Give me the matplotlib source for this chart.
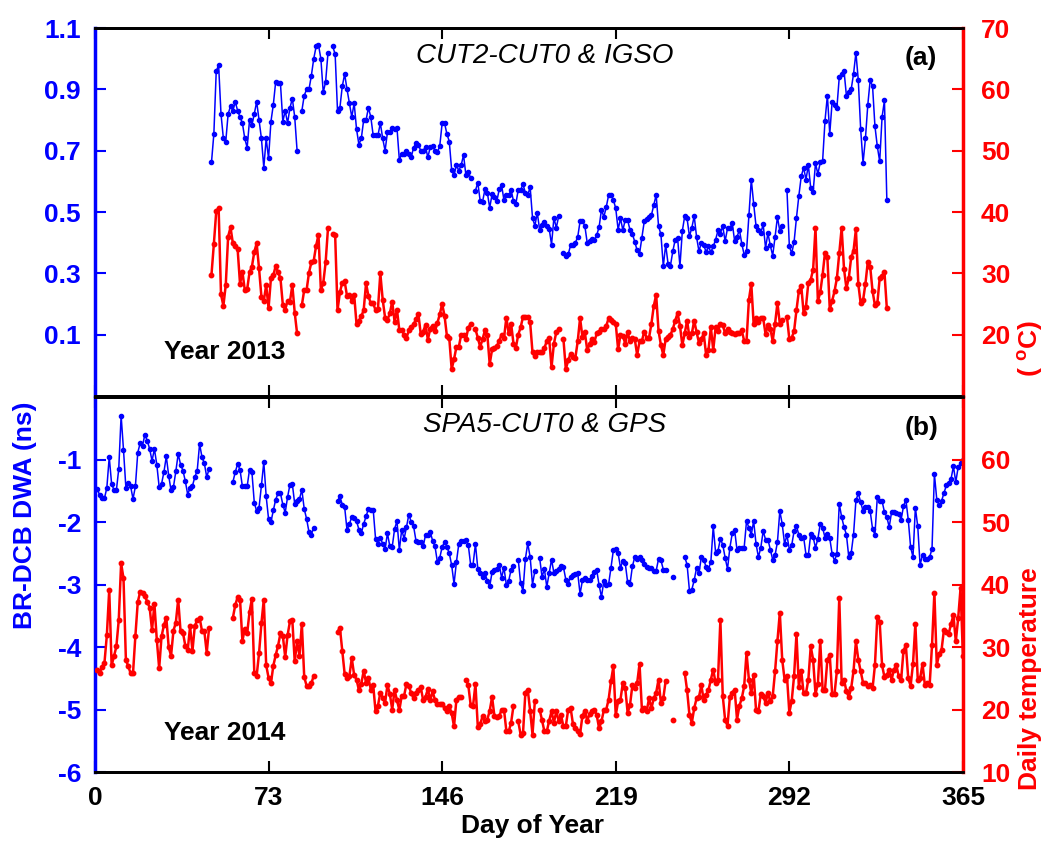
import numpy as np
import matplotlib
matplotlib.use('Agg')
import matplotlib.pyplot as plt

na = np.nan

# ---- 2013, CUT2-CUT0 & IGSO (days 49-333) ----
days_2013 = np.arange(49, 334)
dwa_2013 = [
    0.662, 0.755, 0.96, 0.979, 0.82, 0.74, 0.73, 0.82, 0.845, 0.83,        # 49
    0.86, 0.83, 0.81, 0.79, 0.74, 0.71, 0.80, 0.785, 0.82, 0.86,           # 59
    0.80, 0.74, 0.645, 0.74, 0.675, 0.795, 0.85, 0.925, 0.92, 0.92,        # 69
    0.795, 0.83, 0.79, 0.84, 0.87, 0.81, 0.70, na, 0.83, 0.88,             # 79
    0.90, 0.90, 0.945, 1.0, 1.04, 1.045, 1.0, 0.89, 0.925, 1.02,           # 89
    na, 1.04, 1.015, 0.83, 0.84, 0.91, 0.95, 0.90, 0.855, 0.81,            # 99
    0.855, 0.77, 0.72, 0.74, 0.80, 0.80, 0.84, 0.81, 0.75, 0.75,           # 109
    0.75, 0.79, 0.74, 0.70, 0.76, 0.76, 0.775, 0.77, 0.775, 0.67,          # 119
    0.69, 0.69, 0.70, 0.69, 0.68, 0.71, 0.725, 0.72, 0.70, 0.70,           # 129
    0.713, 0.678, 0.713, 0.716, 0.70, 0.695, 0.716, 0.79, 0.79, 0.755,     # 139
    0.73, 0.637, 0.62, 0.653, 0.635, 0.653, 0.686, 0.62, 0.632, 0.61,      # 149
    na, 0.57, 0.596, 0.536, 0.534, 0.574, 0.563, 0.514, 0.558, 0.55,       # 159
    0.536, 0.574, 0.588, 0.538, 0.555, 0.555, 0.572, 0.536, 0.527, 0.573,  # 169
    0.573, 0.59, 0.563, 0.555, 0.582, 0.481, 0.455, 0.498, 0.442, 0.457,   # 179
    0.468, 0.454, 0.446, 0.394, 0.481, 0.449, 0.486, na, 0.367, 0.356,     # 189
    0.362, 0.391, 0.394, 0.40, 0.418, 0.47, 0.47, 0.455, 0.40, 0.407,      # 199
    0.413, 0.409, 0.425, 0.451, 0.508, 0.484, 0.516, 0.555, 0.555, 0.54,   # 209
    0.512, 0.443, 0.479, 0.441, 0.475, 0.473, 0.442, 0.429, 0.403, 0.375,  # 219
    0.364, 0.416, 0.47, 0.478, 0.484, 0.49, 0.523, 0.556, 0.454, 0.427,    # 229
    0.323, 0.394, 0.331, 0.325, 0.372, 0.41, 0.416, 0.323, 0.438, 0.487,   # 239
    0.479, 0.421, 0.449, 0.487, 0.418, 0.372, 0.40, 0.394, 0.369, 0.388,   # 249
    0.369, 0.388, 0.41, 0.44, 0.43, 0.454, 0.405, 0.447, 0.447, 0.464,     # 259
    0.405, 0.419, 0.442, 0.397, 0.361, 0.372, 0.489, 0.606, 0.527, 0.454,  # 269
    0.443, 0.432, 0.46, 0.383, 0.431, 0.391, 0.358, 0.419, 0.484, 0.438,   # 279
    0.453, na, 0.572, 0.389, 0.365, 0.403, 0.481, 0.553, 0.616, 0.645,     # 289
    0.606, 0.653, 0.578, 0.565, 0.659, 0.624, 0.662, 0.667, 0.798, 0.88,   # 299
    0.755, 0.86, 0.85, 0.84, 0.94, 0.95, 0.96, 0.88, 0.89, 0.90,           # 309
    0.95, 1.02, 0.93, 0.77, 0.66, 0.74, 0.85, 0.93, 0.91, 0.78,            # 319
    0.714, 0.665, 0.81, 0.864, 0.54,                                       # 329
]
temp_2013 = [
    29.8, 34.8, 40.1, 40.7, 26.6, 24.7, 28.1, 36.0, 37.5, 34.9,   # 49
    34.4, 33.9, 28.3, 30.3, 27.3, 27.4, 30.2, 31.1, 33.5, 34.9,   # 59
    30.8, 26.2, 25.5, 28.1, 24.3, 29.2, 29.7, 31.2, 30.2, 29.2,   # 69
    24.9, 24.1, 25.5, 25.4, 28.1, 23.6, 20.2, na, 24.8, 27.3,     # 79
    27.3, 30.1, 31.8, 32.1, 34.5, 36.3, 27.3, 28.4, 31.8, 37.4,   # 89
    na, 36.4, 36.3, 24.0, 26.9, 28.5, 28.7, 26.3, 26.5, 25.5,     # 99
    26.5, 21.7, 22.3, 23.0, 24.0, 28.4, 26.3, 25.1, 25.1, 24.0,   # 109
    24.2, 30.0, 25.7, 22.8, 22.4, 23.5, 25.4, 22.1, 24.1, 20.7,   # 119
    20.7, 20.0, 19.5, 20.7, 21.2, 21.7, 22.5, 23.4, 20.1, 20.5,   # 129
    21.6, 19.2, 21.0, 21.5, 20.6, 21.9, 23.35, 25.0, 23.1, 19.8,  # 139
    19.4, 14.4, 16.0, 18.0, 18.0, 20.0, 20.0, 19.3, 21.1, 21.8,   # 149
    na, 20.9, 19.5, 18.0, 19.3, 20.7, 20.0, 15.2, 17.6, 17.8,     # 159
    18.1, 19.0, 20.0, 19.4, 22.8, 20.2, 21.8, 18.55, 17.9, 20.0,  # 169
    21.2, 22.9, 22.9, 22.9, 22.0, 17.1, 16.5, 17.25, 17.25, 17.1, # 179
    17.8, 19.0, 19.4, 14.7, 18.55, 20.4, 20.9, na, 19.3, 14.4,    # 189
    15.8, 16.9, 16.3, 16.2, 18.9, 22.7, 19.6, 20.4, 17.5, 18.5,   # 199
    19.3, 18.8, 20.2, 20.4, 20.9, 20.9, 21.4, 22.7, 22.4, 22.1,   # 209
    21.8, 17.6, 20.0, 19.8, 18.55, 20.4, 18.9, 19.4, 19.3, 16.7,  # 219
    18.9, 19.0, 20.5, 19.5, 19.5, 21.8, 24.7, 26.5, 20.6, 18.3,   # 229
    16.7, 19.3, 19.6, 20.0, 20.9, 22.3, 23.5, 21.5, 18.3, 20.2,   # 239
    22.3, 19.6, 20.2, 22.3, 20.4, 18.7, 19.3, 20.2, 16.7, 17.5,   # 249
    21.2, 17.5, 21.2, 20.6, 21.7, 21.6, 20.2, 21.0, 20.5, 20.2,   # 259
    20.1, 20.2, 20.2, 20.7, 19.0, 19.0, 25.7, 28.3, 21.7, 22.7,   # 269
    22.1, 22.7, 22.7, 20.1, 21.6, 21.0, 19.0, 21.8, 25.2, 21.8,   # 279
    22.4, na, 22.9, 19.3, 19.5, 20.6, 24.0, 27.1, 28.0, 23.6,     # 289
    24.6, 28.5, 29.0, 30.6, 37.4, 25.5, 26.9, 29.8, 33.4, 32.6,   # 299
    24.2, 25.5, 27.1, 29.2, 33.3, 37.4, 30.7, 27.6, 29.2, 32.6,   # 309
    33.7, 37.2, 28.3, 25.1, 25.6, 28.3, 31.9, 31.1, 27.1, 24.8,   # 319
    25.1, 29.2, 29.5, 30.2, 24.3,                                 # 329
]

# ---- 2014, SPA5-CUT0 & GPS (days 1-365) ----
days_2014 = np.arange(1, 366)
dwa_2014 = [
    -1.47, -1.575, -1.62, -1.62, -1.45, -0.96, -1.39, -1.485, -1.495, -1.15,      # 1
    -0.297, -0.845, -1.45, -1.38, -1.43, -1.63, -1.43, -0.888, -0.739, -0.776,    # 11
    -0.60, -0.70, -0.83, -1.02, -0.83, -1.08, -1.44, -1.39, -1.20, -0.95,         # 21
    -1.256, -1.495, -1.44, -1.19, -0.91, -1.08, -1.176, -1.346, -1.56, -1.45,     # 31
    -1.42, -1.28, -1.176, -0.75, -0.96, -1.06, -1.28, -1.15, na, na,              # 41
    na, na, na, na, na, na, na, -1.36, -1.20, -1.07,                              # 51
    -1.165, -1.43, -1.43, -1.43, -1.16, -1.20, -1.69, -1.825, -1.77, -1.415,      # 61
    -1.04, -1.59, -1.95, -2.0, -1.815, -1.64, -1.54, -1.54, -1.72, -1.85,         # 71
    -1.60, -1.40, -1.39, -1.71, -1.665, -1.63, -1.485, -1.79, -1.95, -2.16,       # 81
    -2.20, -2.09, na, na, na, na, na, na, na, na,                                 # 91
    na, -1.665, -1.59, -1.72, -1.76, -2.13, -2.03, -1.92, -1.93, -1.985,          # 101
    -2.12, -2.18, -2.03, -1.91, -1.79, -1.80, -1.80, -2.27, -2.35, -2.25,         # 111
    -2.35, -2.43, -2.18, -2.39, -2.40, -2.11, -1.985, -2.45, -2.12, -2.27,        # 121
    -2.08, -1.88, -2.0, -2.07, -2.30, -2.32, -2.32, -2.39, -2.21, -2.21,          # 131
    -2.16, -2.30, -2.39, -2.64, -2.57, -2.40, -2.32, -2.40, -2.50, -2.69,         # 141
    -2.99, -2.64, -2.35, -2.30, -2.30, -2.28, -2.37, -2.69, -2.68, -2.35,         # 151
    -2.75, -2.815, -2.88, -2.815, -2.94, -3.03, -2.80, -2.77, -2.75, -2.68,       # 161
    -2.89, -2.73, -3.01, -2.94, -2.76, -2.71, na, -2.60, -2.98, -3.10,            # 171
    -2.59, -2.34, -2.56, -3.0, -2.78, na, -2.57, -2.88, -2.75, -3.04,             # 181
    -2.815, -2.60, -2.815, -2.79, -2.75, -2.71, -2.72, -2.92, -2.99, -2.88,       # 191
    -2.85, -2.83, -2.815, -3.15, -2.93, -2.89, -2.93, -2.92, -2.87, -2.80,        # 201
    -2.77, -3.01, -3.2, -2.94, -3.01, -2.995, -2.73, -2.45, -2.43, -2.50,         # 211
    -2.73, -2.62, -2.66, -2.96, -2.995, -2.71, -2.56, -2.59, -2.56, -2.61,        # 221
    -2.67, -2.72, -2.73, -2.73, -2.78, -2.78, -2.59, -2.61, -2.76, -2.76,         # 231
    na, na, -2.88, na, na, na, na, -2.56, -2.68, -3.10,                           # 241
    -3.08, -2.93, -2.73, -2.82, -2.56, -2.60, -2.72, -2.75, -2.64, -2.07,         # 251
    -2.49, -2.46, -2.27, -2.36, -2.57, -2.75, -2.41, -2.18, -2.13, -2.45,         # 261
    -2.41, -2.41, -2.41, -1.985, -2.09, -2.20, -1.985, -2.35, -2.56, -2.41,       # 271
    -2.145, -2.28, -2.28, -2.44, -2.60, -2.53, -2.32, -1.825, -2.03, -2.35,       # 281
    -2.21, -2.44, -2.37, -2.145, -2.07, -2.20, -2.25, -2.24, -2.52, -2.53,        # 291
    -2.19, -2.24, -2.41, -2.27, -2.03, -2.09, -2.25, -2.19, -2.26, -2.51,         # 301
    -2.62, -2.51, -1.71, -1.92, -2.08, -2.20, -2.56, -2.50, -2.20, -1.655,        # 311
    -1.54, -1.68, -1.825, -1.76, -1.76, -1.825, -2.11, -2.20, -1.60, -1.665,      # 321
    -1.665, -1.84, -1.92, -2.08, -1.84, -1.84, -1.86, -1.87, -1.96, -1.75,        # 331
    -1.64, -1.96, -2.40, -2.56, -1.77, -2.07, -2.69, -2.52, -2.59, -2.59,         # 341
    -2.56, -2.43, -1.23, -1.64, -1.73, -1.665, -1.54, -1.415, -1.38, -1.31,       # 351
    -1.11, -1.36, -1.12, -1.06, -1.00,                                            # 361
]
temp_2014 = [
    26.4, 25.9, 26.8, 27.5, 31.9, 39.2, 27.1, 28.5, 30.1, 34.3,   # 1
    43.4, 41.0, 28.0, 26.9, 25.8, 25.8, 31.8, 37.2, 38.8, 38.6,   # 11
    38.2, 37.2, 36.3, 32.7, 36.9, 31.2, 26.6, 31.7, 33.5, 34.7,   # 21
    30.0, 28.6, 32.6, 33.9, 37.6, 32.5, 32.3, 30.2, 29.5, 33.3,   # 31
    29.4, 33.4, 34.3, 34.7, 32.6, 32.5, 29.1, 33.1, na, na,       # 41
    na, na, na, na, na, na, na, 34.7, 36.7, 38.0,                 # 51
    37.6, 31.0, 32.9, 32.2, 35.6, 37.7, 25.9, 25.4, 29.0, 33.8,   # 61
    37.6, 27.1, 25.1, 24.2, 27.0, 28.7, 30.2, 32.2, 31.8, 28.4,   # 71
    31.9, 34.1, 34.3, 27.7, 30.9, 28.6, 33.7, 25.2, 23.8, 23.7,   # 81
    24.2, 25.4, na, na, na, na, na, na, na, na,                   # 91
    na, 32.4, 33.1, 29.4, 25.7, 25.0, 25.4, 28.2, 25.5, 24.8,     # 101
    23.1, 24.1, 26.2, 24.3, 25.0, 23.2, 23.9, 19.7, 20.6, 22.7,   # 111
    21.9, 21.1, 23.9, 22.5, 20.0, 23.1, 21.5, 19.9, 22.2, 22.2,   # 121
    24.1, 23.8, 22.6, 21.8, 22.6, 23.1, 23.6, 21.5, 22.0, 23.3,   # 131
    21.5, 22.9, 21.5, 20.9, 20.9, 20.9, 20.2, 19.8, 20.5, 19.4,   # 141
    17.3, 21.6, 22.0, 22.0, na, 24.8, 23.9, 20.7, 20.6, 24.1,     # 151
    17.2, 17.7, 18.9, 18.2, 18.4, 19.8, 22.0, 18.9, 18.8, 18.9,   # 161
    20.0, 20.0, 16.6, 16.5, 17.9, 20.6, na, 18.1, 16.0, 16.2,     # 171
    22.7, 23.2, 19.8, 16.0, 21.4, na, 20.0, 18.3, 16.5, 16.5,     # 181
    18.2, 19.7, 17.9, 19.7, 18.2, 19.1, 17.3, 17.3, 20.0, 20.3,   # 191
    17.7, 17.0, 16.5, 16.1, 19.0, 19.8, 18.2, 19.3, 19.7, 20.0,   # 201
    19.1, 17.0, 18.1, 19.9, 20.0, 21.6, 24.5, 26.9, 19.1, 21.3,   # 211
    21.6, 24.3, 23.4, 19.5, 20.7, 23.9, 23.4, 24.2, 27.3, 20.0,   # 221
    20.3, 19.7, 21.8, 20.2, 21.8, 22.7, 24.8, 21.0, 21.8, 24.6,   # 231
    na, na, 18.4, na, na, na, na, 25.9, 23.1, 19.1,               # 241
    17.9, 20.2, 21.8, 22.0, 23.9, 21.5, 22.3, 23.1, 24.8, 26.4,   # 251
    24.2, 24.8, 34.3, 22.2, 18.3, 17.4, 22.0, 22.7, 23.2, 18.4,   # 261
    20.6, 21.8, 23.7, 29.1, 24.8, 22.6, 25.6, 19.9, 19.7, 22.5,   # 271
    22.1, 21.1, 22.6, 21.3, 22.1, 26.1, 31.0, 35.5, 28.0, 24.8,   # 281
    25.4, 19.5, 21.4, 25.4, 32.1, 23.6, 26.2, 22.6, 22.6, 24.8,   # 291
    30.1, 28.0, 22.5, 24.1, 30.9, 23.2, 23.2, 28.0, 28.7, 22.5,   # 301
    22.5, 26.2, 37.9, 24.3, 24.8, 22.9, 22.0, 23.4, 26.2, 30.9,   # 311
    28.0, 26.1, 24.3, 24.3, 23.7, 23.9, 23.4, 27.1, 34.8, 34.0,   # 321
    27.1, 25.2, 25.5, 26.4, 24.8, 26.4, 27.1, 25.3, 24.7, 29.4,   # 331
    30.3, 25.0, 23.8, 27.3, 33.7, 24.8, 25.0, 27.3, 23.9, 24.3,   # 341
    23.9, 30.3, 38.7, 27.1, 28.9, 29.5, 32.7, 32.4, 32.1, 33.7,   # 351
    35.1, 30.9, 34.6, 39.4, 28.5,                                 # 361
]

day_ticks = [0, 73, 146, 219, 292, 365]

BLUE = '#0000ff'
RED = '#ff0000'
FS = 19
FW = 'bold'

plt.rcParams['font.family'] = ['Liberation Sans', 'DejaVu Sans']
plt.rcParams['font.weight'] = FW
plt.rcParams['mathtext.fontset'] = 'custom'
plt.rcParams['mathtext.rm'] = 'Liberation Sans:bold'


def draw_panel(ax, days, dwa, temp, lims, lticks, rticks, title, tag, year, xlabels):
    ax.plot(days, dwa, '-', color=BLUE, lw=1.1, marker='o', ms=3.0, mec=BLUE, mfc=BLUE)
    ax.set_xlim(0, 365)
    ax.set_ylim(*lims[0])
    ax.set_yticks(lticks)
    ax.set_yticklabels([('%g' % t) if abs(t) >= 1 else ('%.1f' % t) for t in lticks])
    ax.set_xticks(day_ticks)
    if not xlabels:
        ax.set_xticklabels([])
    ax.tick_params(axis='y', colors=BLUE, direction='in', length=8, width=1.5,
                   labelsize=FS, pad=10)
    ax.tick_params(axis='x', direction='in', length=8, width=1.5, top=True,
                   labelsize=FS, pad=10)
    ax.spines['left'].set_color(BLUE)
    ax.spines['left'].set_linewidth(2.5)
    for s in ('top', 'bottom'):
        ax.spines[s].set_linewidth(2.0)

    tx = ax.twinx()
    tx.plot(days, temp, '-', color=RED, lw=1.8, marker='o', ms=3.2, mec=RED, mfc=RED)
    tx.set_ylim(*lims[1])
    tx.set_yticks(rticks)
    tx.tick_params(axis='y', colors=RED, direction='in', length=8, width=1.5,
                   labelsize=FS, pad=13)
    tx.spines['right'].set_color(RED)
    tx.spines['right'].set_linewidth(2.5)
    tx.spines['left'].set_visible(False)
    for s in ('top', 'bottom'):
        tx.spines[s].set_linewidth(2.0)

    ax.text(0.518, 0.925, title, transform=ax.transAxes, ha='center', va='center',
            fontsize=20, style='italic', fontweight='normal')
    ax.text(0.952, 0.918, tag, transform=ax.transAxes, ha='center', va='center',
            fontsize=FS)
    ax.text(0.08, year[1], year[0], transform=ax.transAxes, ha='left', va='center',
            fontsize=FS)
    return tx


fig = plt.figure(figsize=(10.47, 8.43), dpi=100)
ax_a = fig.add_axes([0.0907, 0.5302, 0.8290, 0.4365])
ax_b = fig.add_axes([0.0907, 0.0842, 0.8290, 0.4448])

draw_panel(ax_a, days_2013, dwa_2013, temp_2013,
           ((-0.1, 1.1), (10, 70)),
           [0.1, 0.3, 0.5, 0.7, 0.9, 1.1], [20, 30, 40, 50, 60, 70],
           'CUT2-CUT0 & IGSO', '(a)', ('Year 2013', 0.12), False)
draw_panel(ax_b, days_2014, dwa_2014, temp_2014,
           ((-6, 0), (10, 70)),
           [-6, -5, -4, -3, -2, -1], [10, 20, 30, 40, 50, 60],
           'SPA5-CUT0 & GPS', '(b)', ('Year 2014', 0.104), True)

fig.text(0.509, 0.020, 'Day of Year', fontsize=FS, ha='center', va='center')
fig.text(0.024, 0.389, 'BR-DCB DWA (ns)', rotation=90, color=BLUE,
         fontsize=FS, ha='center', va='center')
# the temperature label is split: main words low, unit near the panel joint
fig.text(0.984, 0.195, 'Daily temperature', rotation=90, color=RED,
         fontsize=FS, ha='center', va='center')
fig.text(0.984, 0.587, r'( $^{\rm o}$C)', rotation=90, color=RED,
         fontsize=FS, ha='center', va='center')

fig.savefig('out.png', dpi=100)
